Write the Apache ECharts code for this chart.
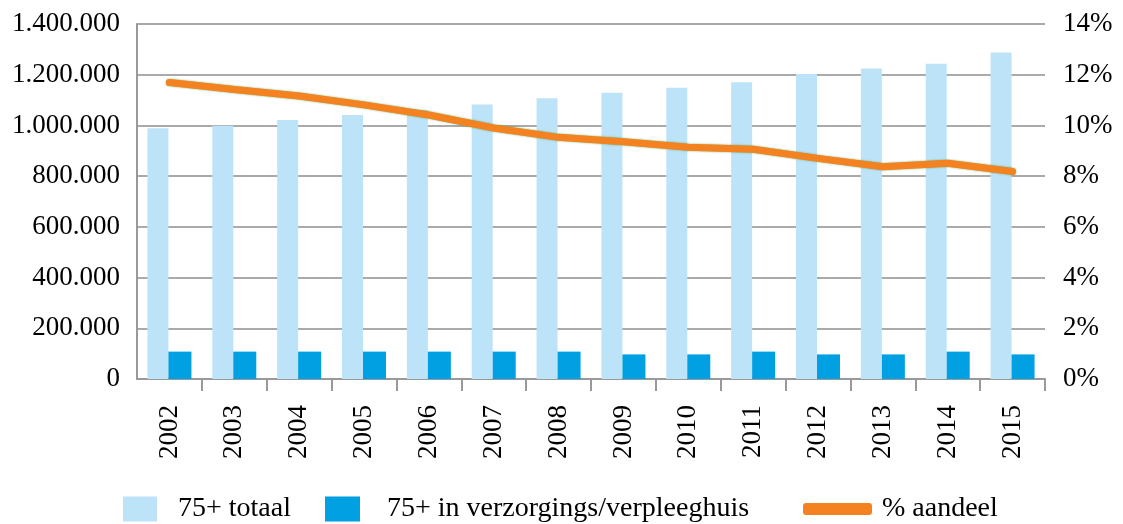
<!DOCTYPE html>
<html>
<head>
<meta charset="utf-8">
<script src="https://cdn.jsdelivr.net/npm/echarts@6/dist/echarts.min.js"></script>
<style>
html, body { margin: 0; padding: 0; background: #fff; }
#chart { width: 1123px; height: 524px; }
</style>
</head>
<body>
<div id="chart"></div>
<script>
var years = ['2002', '2003', '2004', '2005', '2006', '2007', '2008', '2009', '2010', '2011', '2012', '2013', '2014', '2015'];
var totaal = [989000, 999000, 1021000, 1041000, 1062000, 1083000, 1107000, 1129000, 1149000, 1170000, 1203000, 1225000, 1243000, 1288000];
var verzorging = [108000, 108000, 108000, 108000, 108000, 108000, 108000, 97000, 97000, 108000, 97000, 97000, 108000, 97000];
var aandeel = [11.69, 11.42, 11.16, 10.81, 10.41, 9.90, 9.53, 9.36, 9.14, 9.06, 8.70, 8.37, 8.51, 8.18];

var serif = '"Liberation Serif", "Times New Roman", serif';

// 千位分隔用点
function fmtDots(v) {
    return String(v).replace(/\B(?=(\d{3})+(?!\d))/g, '.');
}

var myChart = echarts.init(document.getElementById('chart'));

function legendText(padLeft) {
    return { fontFamily: serif, fontSize: 28, color: '#000', lineHeight: 25, padding: [0, 0, 0, padLeft] };
}

var option = {
    animation: false,
    grid: { left: 137, right: 78, top: 24, bottom: 145 },
    legend: [
        {
            data: ['75+ totaal'], left: 123, top: 495, padding: 0,
            icon: 'rect', itemWidth: 34, itemHeight: 25,
            textStyle: legendText(16)
        },
        {
            data: ['75+ in verzorgings/verpleeghuis'], left: 325, top: 495, padding: 0,
            icon: 'rect', itemWidth: 35, itemHeight: 25,
            textStyle: legendText(22)
        },
        {
            data: [{ name: '% aandeel', icon: 'roundRect' }], left: 803, top: 495, padding: 0,
            itemWidth: 69, itemHeight: 12,
            textStyle: legendText(5)
        }
    ],
    xAxis: {
        type: 'category',
        data: years,
        axisLine: { lineStyle: { color: '#999', width: 2 } },
        axisTick: {
            show: true, length: 12,
            interval: function (i) { return i !== 0; },
            lineStyle: { color: '#999', width: 2 }
        },
        axisLabel: { rotate: 90, margin: 26, fontFamily: serif, fontSize: 27, color: '#000' }
    },
    yAxis: [
        {
            type: 'value', min: 0, max: 1400000, interval: 200000,
            axisLine: { show: true, lineStyle: { color: '#999', width: 2 } },
            axisTick: { show: false },
            splitLine: { lineStyle: { color: '#aaa', width: 2 } },
            axisLabel: { formatter: fmtDots, margin: 17, fontFamily: serif, fontSize: 27, color: '#000' }
        },
        {
            type: 'value', min: 0, max: 14, interval: 2,
            axisLine: { show: false },
            axisTick: { show: false },
            splitLine: { show: false },
            axisLabel: { formatter: '{value}%', margin: 18, fontFamily: serif, fontSize: 27, color: '#000' }
        }
    ],
    series: [
        {
            name: '75+ totaal', type: 'bar', data: totaal,
            barWidth: 21, barGap: '0%',
            itemStyle: { color: '#BDE3F8' }
        },
        {
            name: '75+ in verzorgings/verpleeghuis', type: 'bar', data: verzorging,
            barWidth: 23,
            itemStyle: { color: '#00A0E3' }
        },
        {
            name: '% aandeel', type: 'line', yAxisIndex: 1, data: aandeel,
            symbol: 'none',
            itemStyle: { color: '#F58220' },
            lineStyle: {
                color: '#F58220', width: 7, cap: 'round', join: 'round',
                shadowColor: 'rgba(80,150,50,0.8)', shadowBlur: 2
            }
        }
    ]
};

myChart.setOption(option);
window.addEventListener('resize', function () { myChart.resize(); });
</script>
</body>
</html>
